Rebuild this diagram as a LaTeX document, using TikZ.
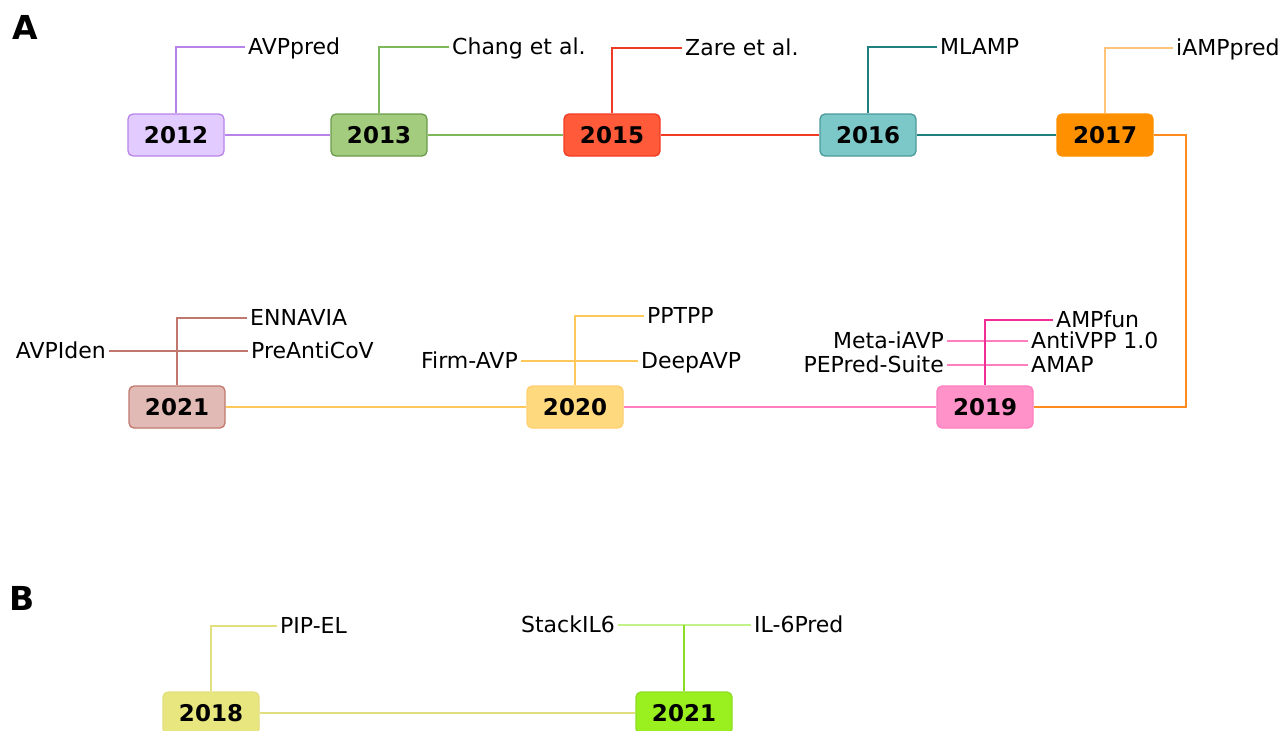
\documentclass[tikz,border=0pt]{standalone}
\usepackage{fontspec}
\setmainfont{DejaVu Sans}
\definecolor{Purple12}{HTML}{B883E8}
\definecolor{Fill12}{HTML}{E2CCFF}
\definecolor{Green13}{HTML}{7DB85A}
\definecolor{Fill13}{HTML}{A3CC7E}
\definecolor{Red15}{HTML}{F03C24}
\definecolor{Fill15}{HTML}{FF5B3A}
\definecolor{Teal16}{HTML}{1F8080}
\definecolor{Fill16}{HTML}{7CC7C7}
\definecolor{Orange17}{HTML}{FF8A1E}
\definecolor{Fill17}{HTML}{FF9100}
\definecolor{Light17}{HTML}{FFC37A}
\definecolor{Pink19}{HTML}{FF7EC0}
\definecolor{Deep19}{HTML}{F02E95}
\definecolor{Fill19}{HTML}{FF92C8}
\definecolor{Yellow20}{HTML}{FFC85A}
\definecolor{Fill20}{HTML}{FFD97E}
\definecolor{Brown21}{HTML}{C0786E}
\definecolor{Fill21}{HTML}{E2BAB5}
\definecolor{Olive18}{HTML}{E2E07E}
\definecolor{Fill18}{HTML}{E8E67E}
\definecolor{Lime21}{HTML}{C2F28A}
\definecolor{DeepLime21}{HTML}{8ADD22}
\definecolor{FillB21}{HTML}{9AEF1F}
\begin{document}
\begin{tikzpicture}
    [x=1pt, y=-1pt,
    YearNode/.style={rounded corners=5pt, line width=1.3pt, minimum width=96pt, minimum height=42pt,
        font=\fontsize{23}{27}\selectfont\bfseries, text height=16pt, text depth=0pt},
    ToolNode/.style={inner sep=3pt, font=\fontsize{22}{26}\selectfont, text height=15pt, text depth=0pt},
    PanelNode/.style={font=\fontsize{33}{37}\selectfont\bfseries},
    Link/.style={line width=1.8pt}]
     \useasboundingbox (0,0) rectangle (1286,731);
     % panel A
     \node[PanelNode] (PanelA) at (25,27){A};
     \node[YearNode, draw=Purple12, fill=Fill12] (Y2012) at (176,135){2012};
     \node[YearNode, draw=Green13!85!black, fill=Fill13] (Y2013) at (379,135){2013};
     \node[YearNode, draw=Red15, fill=Fill15] (Y2015) at (612,135){2015};
     \node[YearNode, draw=Teal16!80, fill=Fill16] (Y2016) at (868,135){2016};
     \node[YearNode, draw=Fill17, fill=Fill17] (Y2017) at (1105,135){2017};
     \node[YearNode, draw=Brown21, fill=Fill21] (Y2021) at (177,407){2021};
     \node[YearNode, draw=Fill20!90!orange, fill=Fill20] (Y2020) at (575,407){2020};
     \node[YearNode, draw=Pink19, fill=Fill19] (Y2019) at (985,407){2019};
     \node[ToolNode, anchor=west] (AVPpredLabel) at (245,47){AVPpred};
     \node[ToolNode, anchor=west] (ChangLabel) at (449,47){Chang et al.};
     \node[ToolNode, anchor=west] (ZareLabel) at (682,48){Zare et al.};
     \node[ToolNode, anchor=west] (MLAMPLabel) at (937,47){MLAMP};
     \node[ToolNode, anchor=west] (iAMPpredLabel) at (1173,48){iAMPpred};
     \node[ToolNode, anchor=west] (ENNAVIALabel) at (247,318){ENNAVIA};
     \node[ToolNode, anchor=east] (AVPIdenLabel) at (109,351){AVPIden};
     \node[ToolNode, anchor=west] (PreAntiCoVLabel) at (248,351){PreAntiCoV};
     \node[ToolNode, anchor=west] (PPTPPLabel) at (644,316){PPTPP};
     \node[ToolNode, anchor=east] (FirmAVPLabel) at (521,361){Firm-AVP};
     \node[ToolNode, anchor=west] (DeepAVPLabel) at (638,361){DeepAVP};
     \node[ToolNode, anchor=west] (AMPfunLabel) at (1053,320){AMPfun};
     \node[ToolNode, anchor=east] (MetaiAVPLabel) at (947,341){Meta-iAVP};
     \node[ToolNode, anchor=west] (AntiVPPLabel) at (1028,341){AntiVPP 1.0};
     \node[ToolNode, anchor=east] (PEPredLabel) at (947,365){PEPred-Suite};
     \node[ToolNode, anchor=west] (AMAPLabel) at (1028,365){AMAP};
     \draw[Link, Purple12] (Y2012) -- (Y2013);
     \draw[Link, Green13] (Y2013) -- (Y2015);
     \draw[Link, Red15] (Y2015) -- (Y2016);
     \draw[Link, Teal16] (Y2016) -- (Y2017);
     \draw[Link, Orange17] (Y2017.east) -- ++(32,0) |- (Y2019.east);
     \draw[Link, Pink19] (Y2019) -- (Y2020);
     \draw[Link, Yellow20] (Y2020) -- (Y2021);
     \draw[Link, Purple12] (Y2012.north) |- (AVPpredLabel.west);
     \draw[Link, Green13] (Y2013.north) |- (ChangLabel.west);
     \draw[Link, Red15] (Y2015.north) |- (ZareLabel.west);
     \draw[Link, Teal16] (Y2016.north) |- (MLAMPLabel.west);
     \draw[Link, Light17] (Y2017.north) |- (iAMPpredLabel.west);
     \draw[Link, Brown21] (Y2021.north) |- (ENNAVIALabel.west);
     \draw[Link, Brown21] (AVPIdenLabel) -- (PreAntiCoVLabel);
     \draw[Link, Yellow20] (Y2020.north) |- (PPTPPLabel.west);
     \draw[Link, Yellow20] (FirmAVPLabel) -- (DeepAVPLabel);
     \draw[Link, Pink19] (MetaiAVPLabel) -- (AntiVPPLabel);
     \draw[Link, Pink19] (PEPredLabel) -- (AMAPLabel);
     \draw[Link, Deep19] (Y2019.north) |- (AMPfunLabel.west);
     % panel B
     \node[PanelNode] (PanelB) at (22,598){B};
     \node[YearNode, draw=Olive18, fill=Fill18] (Y2018) at (211,713){2018};
     \node[YearNode, draw=DeepLime21, fill=FillB21] (YB2021) at (684,713){2021};
     \node[ToolNode, anchor=west] (PIPELLabel) at (277,626){PIP-EL};
     \node[ToolNode, anchor=east] (StackIL6Label) at (618,625){StackIL6};
     \node[ToolNode, anchor=west] (IL6PredLabel) at (751,625){IL-6Pred};
     \draw[Link, Olive18] (Y2018) -- (YB2021);
     \draw[Link, Olive18] (Y2018.north) |- (PIPELLabel.west);
     \draw[Link, Lime21] (StackIL6Label) -- (IL6PredLabel);
     \draw[Link, DeepLime21] (YB2021.north) -- (YB2021.north |- StackIL6Label);
\end{tikzpicture}
\end{document}
